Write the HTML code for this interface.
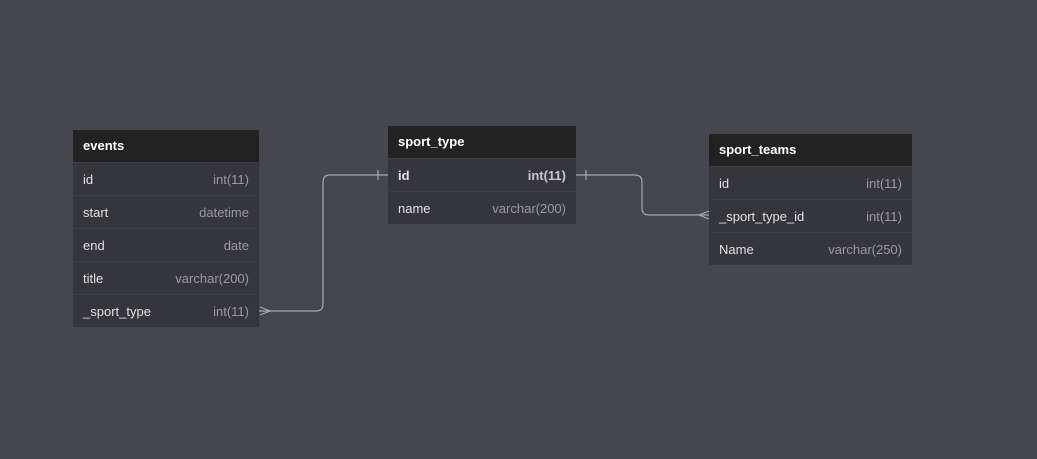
<!DOCTYPE html><html><head><style>
body{margin:0;width:1037px;height:459px;background:#46464e;font-family:"Liberation Sans",sans-serif;position:relative;overflow:hidden}
.t{position:absolute;background:#35353c}
.h{height:32px;background:#222223;color:#fff;font-weight:bold;font-size:13px;line-height:32px;padding-left:10px}
.r{height:33px;line-height:33px;font-size:13px;color:#e0e0e0;padding:0 10px;display:flex;justify-content:space-between;border-top:1px solid #3d3d44;box-sizing:border-box}
.r span:last-child{color:#9a9aa0}
.b{font-weight:bold}.b span:last-child{color:#c8c8cc}
</style></head><body>
<div class="t" style="left:73px;top:130px;width:186px">
<div class="h">events</div>
<div class="r"><span>id</span><span>int(11)</span></div>
<div class="r"><span>start</span><span>datetime</span></div>
<div class="r"><span>end</span><span>date</span></div>
<div class="r"><span>title</span><span>varchar(200)</span></div>
<div class="r"><span>_sport_type</span><span>int(11)</span></div>
</div>
<div class="t" style="left:388px;top:126px;width:188px">
<div class="h">sport_type</div>
<div class="r b"><span>id</span><span>int(11)</span></div>
<div class="r"><span>name</span><span>varchar(200)</span></div>
</div>
<div class="t" style="left:709px;top:134px;width:203px">
<div class="h">sport_teams</div>
<div class="r"><span>id</span><span>int(11)</span></div>
<div class="r"><span>_sport_type_id</span><span>int(11)</span></div>
<div class="r"><span>Name</span><span>varchar(250)</span></div>
</div>
<svg width="1037" height="459" style="position:absolute;left:0;top:0" fill="none" stroke="#a8a8b0" stroke-width="1.2">
<path d="M259 311 H316 Q323 311 323 304 V182 Q323 175 330 175 H388"/>
<path d="M260 307 L270 311 L260 315"/>
<path d="M378 170 V180"/>
<path d="M576 175 H635 Q642 175 642 182 V208 Q642 215 649 215 H709"/>
<path d="M586 170 V180"/>
<path d="M709 211 L699 215 L709 219"/>
</svg>
</body></html>
